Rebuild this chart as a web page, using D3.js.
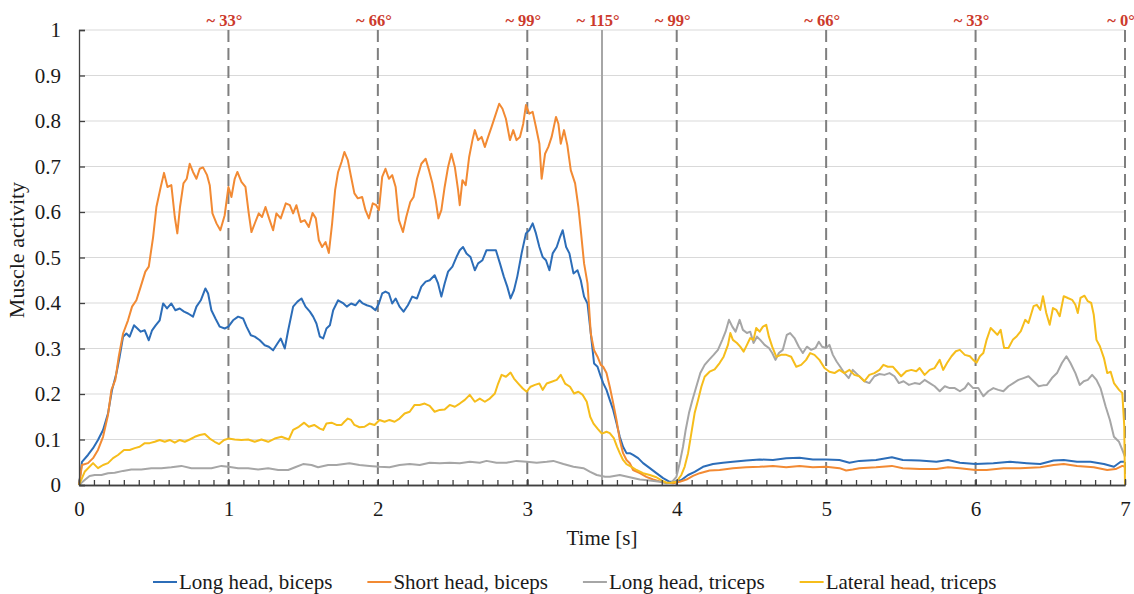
<!DOCTYPE html>
<html>
<head>
<meta charset="utf-8">
<script src="https://cdn.jsdelivr.net/npm/d3@7"></script>
<style>
  body { margin: 0; background: #fff; }
  svg { display: block; }
  text { font-family: "Liberation Serif", "Times New Roman", serif; fill: #1a1a1a; }
</style>
</head>
<body>
<svg id="chart"></svg>
<script>
// [time s, activity]
let longHeadBiceps = [[0,0],[.02,.051],[.06,.066],[.094,.081],[.127,.099],[.161,.121],[.194,.157],[.221,.209],[.25,.245],[.272,.282],[.295,.326],[.317,.333],[.339,.326],[.368,.351],[.391,.344],[.413,.337],[.44,.34],[.467,.318],[.489,.34],[.513,.351],[.54,.362],[.563,.399],[.589,.388],[.618,.399],[.645,.384],[.674,.388],[.703,.381],[.73,.377],[.763,.37],[.786,.392],[.815,.406],[.846,.432],[.864,.421],[.886,.384],[.913,.366],[.942,.348],[.975,.344],[1.0,.348],[1.031,.362],[1.065,.37],[1.098,.366],[1.121,.348],[1.15,.329],[1.176,.326],[1.21,.318],[1.243,.307],[1.27,.304],[1.299,.296],[1.328,.311],[1.35,.322],[1.377,.3],[1.4,.34],[1.433,.392],[1.462,.403],[1.489,.41],[1.516,.392],[1.545,.381],[1.567,.37],[1.589,.355],[1.612,.326],[1.634,.322],[1.656,.344],[1.679,.351],[1.701,.384],[1.734,.406],[1.77,.399],[1.792,.392],[1.821,.399],[1.85,.395],[1.877,.406],[1.899,.399],[1.926,.395],[1.955,.392],[1.984,.384],[2.007,.399],[2.029,.421],[2.051,.425],[2.074,.421],[2.096,.399],[2.119,.41],[2.145,.392],[2.172,.381],[2.201,.395],[2.23,.414],[2.262,.41],[2.291,.436],[2.32,.447],[2.347,.45],[2.38,.461],[2.403,.443],[2.425,.414],[2.447,.443],[2.47,.469],[2.499,.48],[2.526,.501],[2.548,.516],[2.57,.523],[2.593,.509],[2.62,.501],[2.649,.472],[2.671,.487],[2.7,.494],[2.727,.516],[2.761,.516],[2.79,.516],[2.817,.487],[2.843,.458],[2.866,.436],[2.888,.41],[2.911,.428],[2.933,.458],[2.962,.509],[2.991,.553],[3.013,.56],[3.036,.575],[3.058,.553],[3.081,.523],[3.103,.501],[3.125,.494],[3.148,.472],[3.17,.509],[3.197,.523],[3.219,.545],[3.237,.56],[3.26,.523],[3.282,.509],[3.309,.465],[3.336,.472],[3.358,.45],[3.38,.414],[3.403,.399],[3.425,.333],[3.447,.267],[3.47,.26],[3.492,.238],[3.508,.224],[3.53,.209],[3.552,.187],[3.575,.165],[3.597,.136],[3.619,.106],[3.641,.084],[3.664,.07],[3.686,.07],[3.708,.066],[3.742,.059],[3.775,.048],[3.82,.037],[3.864,.026],[3.909,.015],[3.953,.007],[3.987,.007],[4.031,.011],[4.076,.022],[4.12,.029],[4.176,.04],[4.243,.046],[4.31,.049],[4.376,.051],[4.465,.054],[4.555,.056],[4.644,.055],[4.733,.059],[4.822,.06],[4.911,.056],[5.0,.056],[5.089,.055],[5.156,.049],[5.222,.053],[5.334,.055],[5.44,.061],[5.513,.055],[5.626,.054],[5.738,.051],[5.816,.055],[5.895,.049],[6.0,.046],[6.119,.048],[6.231,.051],[6.343,.048],[6.433,.046],[6.522,.054],[6.59,.055],[6.679,.051],[6.769,.051],[6.859,.046],[6.926,.04],[6.971,.051],[7.0,.051]]

let shortHeadBiceps = [[0,0],[.02,.044],[.06,.048],[.094,.059],[.127,.077],[.161,.106],[.194,.154],[.217,.209],[.243,.231],[.266,.282],[.295,.333],[.328,.362],[.355,.392],[.384,.406],[.413,.436],[.444,.469],[.467,.48],[.496,.545],[.518,.611],[.547,.655],[.569,.686],[.592,.655],[.618,.659],[.641,.589],[.658,.553],[.676,.611],[.699,.663],[.721,.673],[.741,.706],[.763,.688],[.786,.673],[.808,.695],[.83,.698],[.857,.681],[.875,.659],[.893,.597],[.92,.575],[.946,.56],[.975,.593],[1.0,.655],[1.02,.633],[1.042,.673],[1.06,.688],[1.087,.666],[1.114,.655],[1.136,.597],[1.154,.556],[1.18,.578],[1.203,.597],[1.225,.589],[1.248,.611],[1.272,.586],[1.299,.56],[1.321,.597],[1.35,.586],[1.384,.619],[1.411,.615],[1.433,.597],[1.455,.615],[1.484,.578],[1.511,.582],[1.538,.567],[1.563,.598],[1.585,.586],[1.605,.538],[1.627,.523],[1.65,.534],[1.672,.51],[1.694,.575],[1.714,.648],[1.734,.688],[1.757,.71],[1.776,.732],[1.799,.714],[1.821,.677],[1.843,.641],[1.866,.63],[1.895,.633],[1.917,.604],[1.94,.586],[1.966,.619],[1.989,.615],[2.007,.604],[2.029,.677],[2.051,.695],[2.074,.673],[2.096,.681],[2.119,.655],[2.141,.582],[2.168,.556],[2.19,.589],[2.217,.622],[2.239,.633],[2.262,.673],[2.291,.706],[2.32,.717],[2.342,.692],[2.365,.663],[2.387,.626],[2.405,.586],[2.425,.604],[2.447,.655],[2.47,.699],[2.492,.728],[2.515,.699],[2.537,.648],[2.548,.615],[2.566,.67],[2.588,.659],[2.611,.721],[2.633,.758],[2.649,.78],[2.671,.758],[2.694,.765],[2.716,.743],[2.738,.765],[2.761,.787],[2.783,.809],[2.812,.838],[2.834,.827],[2.857,.805],[2.884,.758],[2.906,.78],[2.928,.758],[2.951,.765],[2.973,.794],[2.991,.835],[3.013,.816],[3.036,.82],[3.058,.787],[3.081,.75],[3.096,.673],[3.119,.728],[3.141,.743],[3.163,.765],[3.192,.809],[3.208,.794],[3.224,.75],[3.246,.78],[3.268,.747],[3.291,.692],[3.32,.663],[3.342,.611],[3.358,.56],[3.38,.487],[3.403,.443],[3.425,.333],[3.447,.296],[3.47,.282],[3.492,.264],[3.508,.26],[3.53,.246],[3.552,.216],[3.575,.18],[3.597,.143],[3.619,.099],[3.641,.07],[3.664,.055],[3.686,.048],[3.708,.033],[3.753,.026],[3.797,.018],[3.842,.012],[3.886,.008],[3.931,.005],[3.976,.004],[4.02,.007],[4.065,.012],[4.109,.02],[4.154,.026],[4.22,.032],[4.287,.033],[4.376,.037],[4.465,.039],[4.555,.04],[4.644,.042],[4.733,.039],[4.822,.042],[4.911,.039],[5.0,.04],[5.089,.037],[5.134,.032],[5.178,.034],[5.222,.037],[5.334,.039],[5.44,.042],[5.513,.037],[5.626,.035],[5.738,.035],[5.816,.039],[5.895,.037],[6.0,.033],[6.074,.033],[6.186,.037],[6.298,.037],[6.433,.039],[6.522,.044],[6.59,.046],[6.679,.042],[6.791,.039],[6.881,.033],[6.937,.035],[6.982,.042],[7.0,.04]]

let longHeadTriceps = [[0,0],[.038,.011],[.071,.02],[.105,.022],[.15,.022],[.194,.026],[.239,.027],[.295,.031],[.35,.034],[.417,.034],[.484,.037],[.551,.037],[.618,.039],[.685,.042],[.752,.037],[.819,.037],[.886,.037],[.953,.042],[1.0,.04],[1.065,.037],[1.132,.037],[1.199,.034],[1.266,.037],[1.333,.033],[1.4,.033],[1.455,.04],[1.5,.046],[1.556,.044],[1.6,.039],[1.667,.044],[1.723,.044],[1.81,.048],[1.877,.044],[1.944,.042],[2.011,.04],[2.078,.039],[2.145,.044],[2.213,.046],[2.28,.044],[2.347,.049],[2.414,.048],[2.481,.049],[2.548,.048],[2.615,.051],[2.682,.049],[2.727,.053],[2.794,.049],[2.861,.049],[2.928,.053],[2.996,.051],[3.063,.049],[3.13,.051],[3.174,.053],[3.242,.046],[3.309,.04],[3.376,.037],[3.421,.029],[3.465,.022],[3.521,.018],[3.552,.018],[3.619,.022],[3.686,.017],[3.753,.012],[3.82,.01],[3.886,.007],[3.931,.004],[3.964,.005],[3.998,.018],[4.02,.048],[4.042,.084],[4.06,.121],[4.082,.158],[4.105,.187],[4.131,.216],[4.158,.246],[4.187,.264],[4.216,.275],[4.247,.286],[4.276,.297],[4.305,.319],[4.327,.337],[4.35,.363],[4.372,.348],[4.394,.337],[4.421,.363],[4.443,.341],[4.47,.334],[4.492,.337],[4.514,.312],[4.537,.326],[4.559,.319],[4.588,.308],[4.617,.301],[4.639,.29],[4.661,.275],[4.684,.29],[4.71,.297],[4.737,.33],[4.759,.334],[4.788,.323],[4.817,.304],[4.844,.29],[4.871,.304],[4.9,.297],[4.929,.301],[4.951,.315],[4.973,.304],[5.0,.301],[5.022,.308],[5.045,.286],[5.071,.271],[5.094,.26],[5.122,.246],[5.151,.235],[5.178,.253],[5.212,.242],[5.256,.228],[5.289,.224],[5.323,.239],[5.357,.244],[5.39,.242],[5.424,.246],[5.457,.239],[5.487,.224],[5.518,.228],[5.554,.22],[5.592,.224],[5.626,.222],[5.659,.231],[5.693,.224],[5.726,.217],[5.76,.206],[5.794,.217],[5.827,.213],[5.861,.213],[5.895,.206],[5.928,.213],[5.951,.224],[5.984,.213],[6.018,.213],[6.052,.195],[6.085,.206],[6.119,.213],[6.152,.209],[6.186,.206],[6.22,.217],[6.253,.224],[6.287,.231],[6.321,.235],[6.354,.239],[6.388,.228],[6.422,.217],[6.451,.219],[6.478,.22],[6.511,.235],[6.545,.246],[6.578,.268],[6.608,.283],[6.635,.268],[6.668,.246],[6.697,.22],[6.724,.228],[6.751,.231],[6.78,.242],[6.809,.231],[6.836,.213],[6.87,.173],[6.899,.143],[6.926,.106],[6.96,.095],[6.982,.077],[7.0,.062]]

let lateralHeadTriceps = [[0,0],[.038,.029],[.094,.048],[.127,.037],[.161,.044],[.194,.048],[.228,.059],[.261,.066],[.301,.077],[.339,.077],[.373,.081],[.406,.084],[.44,.092],[.473,.092],[.507,.095],[.54,.099],[.574,.095],[.607,.099],[.641,.093],[.674,.099],[.708,.095],[.741,.1],[.775,.106],[.808,.11],[.842,.112],[.875,.102],[.908,.095],[.938,.09],[.971,.099],[1.0,.102],[1.042,.1],[1.087,.099],[1.132,.1],[1.176,.095],[1.221,.1],[1.266,.095],[1.31,.102],[1.355,.106],[1.404,.1],[1.433,.121],[1.471,.128],[1.507,.137],[1.538,.128],[1.574,.132],[1.612,.124],[1.634,.121],[1.656,.135],[1.69,.137],[1.723,.132],[1.757,.132],[1.776,.139],[1.799,.146],[1.821,.143],[1.843,.132],[1.877,.127],[1.911,.128],[1.944,.135],[1.978,.132],[2.011,.143],[2.045,.139],[2.078,.143],[2.112,.139],[2.145,.146],[2.179,.157],[2.213,.161],[2.246,.176],[2.28,.176],[2.313,.179],[2.347,.174],[2.38,.161],[2.414,.165],[2.447,.166],[2.481,.176],[2.515,.172],[2.548,.179],[2.582,.187],[2.615,.198],[2.649,.183],[2.682,.19],[2.716,.183],[2.749,.19],[2.783,.201],[2.805,.223],[2.828,.242],[2.857,.238],[2.888,.247],[2.911,.234],[2.94,.223],[2.97,.212],[2.996,.205],[3.022,.216],[3.051,.22],[3.081,.223],[3.103,.209],[3.13,.223],[3.163,.227],[3.197,.231],[3.224,.242],[3.253,.223],[3.286,.216],[3.313,.201],[3.342,.205],[3.371,.198],[3.398,.183],[3.421,.15],[3.443,.135],[3.47,.124],[3.499,.113],[3.508,.114],[3.53,.117],[3.552,.114],[3.579,.103],[3.601,.084],[3.619,.07],[3.641,.055],[3.664,.046],[3.697,.04],[3.731,.033],[3.775,.026],[3.82,.022],[3.864,.017],[3.898,.01],[3.931,.005],[3.964,.005],[3.998,.007],[4.031,.022],[4.053,.04],[4.076,.07],[4.098,.114],[4.12,.158],[4.143,.187],[4.165,.216],[4.187,.238],[4.22,.249],[4.254,.254],[4.287,.268],[4.314,.282],[4.343,.308],[4.359,.334],[4.376,.319],[4.403,.312],[4.425,.304],[4.448,.293],[4.47,.308],[4.492,.323],[4.514,.319],[4.532,.345],[4.555,.337],[4.577,.348],[4.599,.352],[4.617,.326],[4.639,.304],[4.666,.282],[4.699,.286],[4.733,.286],[4.766,.282],[4.8,.26],[4.833,.264],[4.866,.275],[4.893,.29],[4.922,.286],[4.955,.275],[4.989,.257],[5.022,.249],[5.056,.246],[5.089,.253],[5.122,.246],[5.156,.253],[5.189,.242],[5.222,.239],[5.256,.228],[5.289,.242],[5.323,.246],[5.357,.253],[5.383,.264],[5.413,.26],[5.446,.26],[5.473,.25],[5.502,.239],[5.536,.25],[5.57,.253],[5.603,.25],[5.626,.257],[5.659,.242],[5.693,.253],[5.726,.257],[5.76,.275],[5.783,.253],[5.809,.268],[5.839,.283],[5.868,.294],[5.895,.297],[5.928,.286],[5.962,.283],[5.984,.275],[6.007,.269],[6.029,.283],[6.052,.29],[6.074,.319],[6.101,.345],[6.123,.338],[6.146,.33],[6.168,.341],[6.191,.301],[6.22,.301],[6.249,.319],[6.276,.327],[6.303,.338],[6.332,.363],[6.354,.356],[6.388,.393],[6.41,.396],[6.433,.385],[6.451,.415],[6.473,.378],[6.496,.352],[6.518,.389],[6.54,.385],[6.563,.371],[6.59,.415],[6.617,.411],[6.646,.407],[6.668,.396],[6.684,.378],[6.702,.411],[6.729,.416],[6.751,.404],[6.774,.4],[6.791,.374],[6.809,.319],[6.832,.305],[6.859,.279],[6.881,.246],[6.904,.249],[6.926,.224],[6.96,.209],[6.982,.202],[6.995,.13],[7.0,0]]

let seriesNames = ['Long head, biceps', 'Short head, biceps', 'Long head, triceps', 'Lateral head, triceps']
let seriesColors = ['#2c6db8', '#f28a33', '#a6a6a6', '#f6bd1b']

// elbow angle markers
let angleTimes = [1, 2, 3, 3.5, 4, 5, 6, 7]
let angleLabels = ['~ 33°', '~ 66°', '~ 99°', '~ 115°', '~ 99°', '~ 66°', '~ 33°', '~ 0°']
let angleDashed = [true, true, true, false, true, true, true, true]

let xTicks = [0, 1, 2, 3, 4, 5, 6, 7]
let yTicks = [0, .1, .2, .3, .4, .5, .6, .7, .8, .9, 1]
let yTickLabels = ['0', '0.1', '0.2', '0.3', '0.4', '0.5', '0.6', '0.7', '0.8', '0.9', '1']

let W = 1134, H = 594
let margin = { top: 30, right: 9, bottom: 109, left: 79 }
let innerW = W - margin.left - margin.right
let innerH = H - margin.top - margin.bottom

let svg = d3.select('#chart').attr('width', W).attr('height', H)
let g = svg.append('g').attr('transform', `translate(${margin.left},${margin.top})`)

let x = d3.scaleLinear().domain([0, 7]).range([0, innerW])
let y = d3.scaleLinear().domain([0, 1]).range([innerH, 0])

// horizontal gridlines
g.append('g').selectAll('line').data(yTicks.slice(1)).join('line')
    .attr('x1', 0).attr('x2', innerW)
    .attr('y1', d => y(d)).attr('y2', d => y(d))
    .attr('stroke', '#d9d9d9').attr('stroke-width', 1)

// angle marker lines
g.append('g').selectAll('line').data(angleTimes).join('line')
    .attr('x1', d => x(d)).attr('x2', d => x(d))
    .attr('y1', 0).attr('y2', innerH)
    .attr('stroke', (d, i) => angleDashed[i] ? '#7f7f7f' : '#a6a6a6')
    .attr('stroke-width', 2)
    .attr('stroke-dasharray', (d, i) => angleDashed[i] ? '12,6' : null)

g.append('g').selectAll('text').data(angleTimes).join('text')
    .attr('x', d => x(d) - 4)
    .attr('y', -4)
    .attr('text-anchor', 'middle')
    .style('font-size', '16.5px')
    .style('font-weight', 'bold')
    .style('fill', '#cc3a2c')
    .text((d, i) => angleLabels[i])

// series
let allSeries = [longHeadBiceps, shortHeadBiceps, longHeadTriceps, lateralHeadTriceps]
let line = d3.line().x(d => x(d[0])).y(d => y(d[1]))
g.append('g').selectAll('path').data(allSeries).join('path')
    .attr('d', line)
    .attr('fill', 'none')
    .attr('stroke', (d, i) => seriesColors[i])
    .attr('stroke-width', 2)
    .attr('stroke-linejoin', 'round')

// axes
let axisColor = '#404040'
let yAxis = g.append('g')
    .call(d3.axisLeft(y).tickValues(yTicks).tickFormat((d, i) => yTickLabels[i]).tickSize(-6).tickPadding(18))
let xMinor = g.append('g').attr('transform', `translate(0,${innerH})`)
    .call(d3.axisBottom(x).ticks(70).tickFormat('').tickSize(-5).tickSizeOuter(0))
let xAxis = g.append('g').attr('transform', `translate(0,${innerH})`)
    .call(d3.axisBottom(x).tickValues(xTicks).tickFormat(d3.format('d')).tickSize(-6).tickSizeOuter(0).tickPadding(16))

;[yAxis, xMinor, xAxis].forEach(a => {
    a.selectAll('path, line').attr('stroke', axisColor).attr('stroke-width', 1.3)
    a.selectAll('text').style('font-size', '21px').style('font-family', '"Liberation Serif", serif').attr('fill', '#1a1a1a')
})

// axis titles
svg.append('text')
    .attr('transform', `translate(24,250) rotate(-90)`)
    .attr('text-anchor', 'middle')
    .style('font-size', '22px')
    .text('Muscle activity')

svg.append('text')
    .attr('x', margin.left + innerW / 2)
    .attr('y', 545)
    .attr('text-anchor', 'middle')
    .style('font-size', '21px')
    .text('Time [s]')

// legend
let legend = svg.append('g').attr('transform', 'translate(153,582)')
let lx = 0
seriesNames.forEach((name, i) => {
    let item = legend.append('g').attr('transform', `translate(${lx},0)`)
    item.append('line').attr('x1', 0).attr('x2', 24).attr('y1', 0).attr('y2', 0)
        .attr('stroke', seriesColors[i]).attr('stroke-width', 2)
    let t = item.append('text').attr('x', 26).attr('y', 7).style('font-size', '21px').text(name)
    lx += 26 + t.node().getComputedTextLength() + 35
})
</script>
</body>
</html>
